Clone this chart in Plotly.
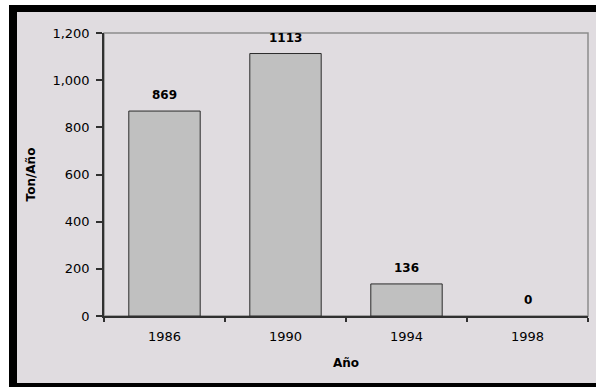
import plotly.graph_objects as go

years = ["1986", "1990", "1994", "1998"]
values = [869, 1113, 136, 0]
y_ticks = [0, 200, 400, 600, 800, 1000, 1200]

W, H = 596, 387
ML, MR, MT, MB = 104, 8, 33, 71
PW, PH = W - ML - MR, H - MT - MB

def px(x):
    return (x - ML) / PW

def py(y):
    return (H - MB - y) / PH

BG = "#E0DCE0"
FONT = "DejaVu Sans"

fig = go.Figure()
fig.add_trace(go.Bar(
    x=years, y=values,
    marker=dict(color="#C0C0C0",
                line=dict(color="#2a2a2a", width=[1 if v > 0 else 0 for v in values])),
    width=0.59,
    hoverinfo="x+y",
))

annotations = []
for i, (yr, v) in enumerate(zip(years, values)):
    annotations.append(dict(
        x=i, y=v, xref="x", yref="y", text=f"<b>{v}</b>", showarrow=False,
        yanchor="middle", yshift=16,
        font=dict(family=FONT, size=12, color="#000000"),
    ))

shapes = [
    dict(type="rect", xref="paper", yref="paper", x0=0, x1=1, y0=0, y1=1,
         line=dict(color="#8c8c8c", width=1.5), layer="below"),
    dict(type="rect", xref="paper", yref="paper", x0=px(0), x1=px(W), y0=py(0), y1=py(5),
         line=dict(width=0), fillcolor="#FFFFFF", layer="above"),
    dict(type="rect", xref="paper", yref="paper", x0=px(0), x1=px(9), y0=py(0), y1=py(H),
         line=dict(width=0), fillcolor="#FFFFFF", layer="above"),
    dict(type="rect", xref="paper", yref="paper", x0=px(9), x1=px(W), y0=py(5), y1=py(12),
         line=dict(width=0), fillcolor="#000000", layer="above"),
    dict(type="rect", xref="paper", yref="paper", x0=px(9), x1=px(17), y0=py(5), y1=py(H),
         line=dict(width=0), fillcolor="#000000", layer="above"),
    dict(type="rect", xref="paper", yref="paper", x0=px(9), x1=px(W), y0=py(383), y1=py(H),
         line=dict(width=0), fillcolor="#000000", layer="above"),
]

fig.update_layout(
    width=W, height=H,
    margin=dict(l=ML, r=MR, t=MT, b=MB, pad=0),
    paper_bgcolor=BG, plot_bgcolor=BG,
    showlegend=False,
    font=dict(family=FONT, size=13, color="#000000"),
    annotations=annotations,
    shapes=shapes,
)
fig.update_xaxes(
    type="category", range=[-0.5, len(years) - 0.5], autorange=False,
    tickson="boundaries", ticks="outside", ticklen=4,
    tickcolor="#303030", tickwidth=1.5,
    showline=True, linecolor="#303030", linewidth=1.5,
    showgrid=False, zeroline=False,
    tickfont=dict(family=FONT, size=13, color="#000000"),
    ticklabelstandoff=8,
    title=dict(text="<b>Año</b>", font=dict(family=FONT, size=12, color="#000000"), standoff=15),
    automargin=False,
)
fig.update_yaxes(
    range=[0, 1200], tickvals=y_ticks, tickformat=",", ticks="outside", ticklen=6,
    tickcolor="#303030", tickwidth=1.5,
    showline=True, linecolor="#303030", linewidth=1.5,
    showgrid=False, zeroline=False,
    tickfont=dict(family=FONT, size=13, color="#000000"),
    ticklabelstandoff=4,
    title=dict(text="<b>Ton/Año</b>", font=dict(family=FONT, size=12, color="#000000"), standoff=14),
    automargin=False,
)

fig.write_html("out.html")
